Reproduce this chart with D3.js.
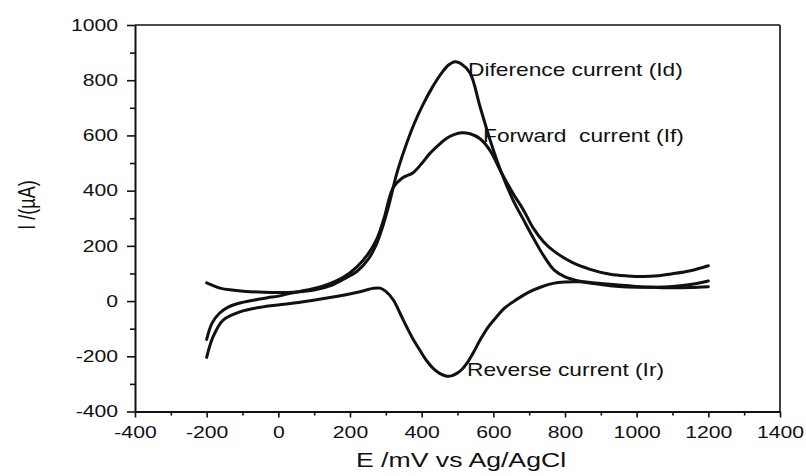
<!DOCTYPE html>
<html>
<head>
<meta charset="utf-8">
<script src="https://cdn.jsdelivr.net/npm/d3@7"></script>
<style>
  html, body { margin: 0; padding: 0; background: #fff; }
  svg { display: block; }
  text { font-family: "Liberation Sans", Arial, sans-serif; fill: #111; }
</style>
</head>
<body>
<svg id="chart" width="806" height="476"></svg>
<script>
// ---- data ----
const xTicks = [-400, -200, 0, 200, 400, 600, 800, 1000, 1200, 1400];
const yTicks = [-400, -200, 0, 200, 400, 600, 800, 1000];
const xTitle = "E /mV vs Ag/AgCl";
const yTitle = "I /(\u00B5A)";

// Difference current (Id)
const idE = [-200,-180,-160,-130,-90,-40,0,50,100,150,190,220,250,270,290,310,330,355,380,405,430,455,475,493,510,535,563,591,623,655,684,711,740,770,800,842,900,950,1000,1050,1100,1150,1200];
const idI = [66,55,46,40,35,32,31,33,40,58,85,108,150,195,265,355,460,560,645,715,775,825,855,867,860,826,704,583,464,366,295,230,165,112,88,72,60,53,50,50,53,60,73];

// Forward current (If)
const ifE = [-200,-185,-165,-140,-110,-70,-30,0,33,80,130,180,220,250,275,295,320,345,376,400,423,447,470,490,512,535,563,591,623,655,684,711,740,770,820,870,926,975,1018,1060,1100,1150,1200];
const ifI = [-139,-80,-45,-22,-8,3,12,18,28,40,57,85,125,170,225,300,410,445,465,498,535,565,590,603,610,606,588,545,464,390,330,265,215,180,140,115,97,91,89,92,99,110,128];

// Reverse current (Ir)
const irE = [-200,-182,-154,-107,-43,51,144,228,264,284,300,321,340,358,377,395,415,432,450,470,485,498,512,526,545,563,585,609,632,656,680,702,735,767,800,842,900,950,1000,1050,1100,1150,1200];
const irI = [-204,-129,-69,-39,-21,-6,13,34,46,47,35,4,-45,-93,-140,-178,-218,-244,-262,-272,-270,-262,-248,-226,-185,-141,-95,-57,-25,-2,18,34,52,64,69,70,64,58,53,50,48,49,52];

const seriesLabels = ["Diference current (Id)", "Forward\u00A0 current (If)", "Reverse current (Ir)"];
const labelAnchors = [[468, 76], [483, 142], [467, 376]]; // label start x, baseline y (pixels)

// ---- layout ----
const svg = d3.select("#chart");
const L = 135, R = 780, T = 25, B = 411.5;
const SX = 1.3; // horizontal stretch of the original image's text
const ink = "#111";

const x = d3.scaleLinear().domain([-400, 1400]).range([L, R]);
const y = d3.scaleLinear().domain([-400, 1000]).range([B, T]);

// frame (top & right)
svg.append("line").attr("x1", L).attr("x2", R).attr("y1", T).attr("y2", T)
  .attr("stroke", ink).attr("stroke-width", 1.6);
svg.append("line").attr("x1", R).attr("x2", R).attr("y1", T).attr("y2", B)
  .attr("stroke", ink).attr("stroke-width", 1.6);

// minor ticks
const xMinor = d3.range(-300, 1400, 200);
const yMinor = d3.range(-300, 1000, 200);
svg.append("g").attr("transform", `translate(0,${B})`)
  .call(d3.axisBottom(x).tickValues(xMinor).tickSize(4).tickFormat(""))
  .call(g => g.select(".domain").remove())
  .call(g => g.selectAll("line").attr("stroke", ink).attr("stroke-width", 1.6));
svg.append("g").attr("transform", `translate(${L},0)`)
  .call(d3.axisLeft(y).tickValues(yMinor).tickSize(5).tickFormat(""))
  .call(g => g.select(".domain").remove())
  .call(g => g.selectAll("line").attr("stroke", ink).attr("stroke-width", 1.6));

// major axes
const fmt = d => String(d); // plain hyphen-minus as in the reference
const xAxis = svg.append("g").attr("transform", `translate(0,${B})`)
  .call(d3.axisBottom(x).tickValues(xTicks).tickSize(6).tickSizeOuter(0).tickPadding(9).tickFormat(fmt));
const yAxis = svg.append("g").attr("transform", `translate(${L},0)`)
  .call(d3.axisLeft(y).tickValues(yTicks).tickSize(8).tickSizeOuter(0).tickPadding(5).tickFormat(fmt));

[xAxis, yAxis].forEach(ax => {
  ax.select(".domain").attr("stroke", ink).attr("stroke-width", 2);
  ax.selectAll(".tick line").attr("stroke", ink).attr("stroke-width", 1.6);
  ax.selectAll(".tick text")
    .attr("font-size", 16.3)
    .attr("font-family", '"Liberation Sans", Arial, sans-serif')
    .attr("fill", ink)
    .attr("transform", `scale(${SX},1)`);
});

// axis titles
svg.append("g").attr("transform", `translate(461,467) scale(${SX},1)`)
  .append("text").attr("text-anchor", "middle").attr("font-size", 20.5).text(xTitle);
svg.append("g").attr("transform", `translate(27,205) scale(${SX},1) rotate(-90)`)
  .append("text").attr("text-anchor", "middle").attr("dy", "0.35em").attr("font-size", 18).text(yTitle);

// curves
const line = d3.line().x(d => x(d[0])).y(d => y(d[1])).curve(d3.curveCatmullRom.alpha(0.5));
const series = [
  d3.zip(idE, idI),
  d3.zip(ifE, ifI),
  d3.zip(irE, irI)
];
svg.append("g").selectAll("path").data(series).join("path")
  .attr("d", line)
  .attr("fill", "none")
  .attr("stroke", ink)
  .attr("stroke-width", 3)
  .attr("stroke-linejoin", "round")
  .attr("stroke-linecap", "round");

// series labels
seriesLabels.forEach((t, i) => {
  svg.append("g").attr("transform", `translate(${labelAnchors[i][0]},${labelAnchors[i][1]}) scale(${SX},1)`)
    .append("text").attr("font-size", 17.5).style("white-space", "pre").text(t);
});
</script>
</body>
</html>
